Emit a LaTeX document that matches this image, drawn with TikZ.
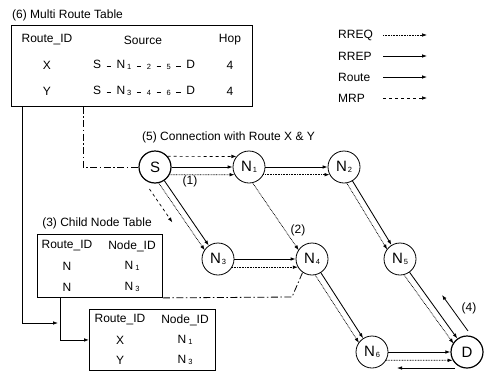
\documentclass[tikz,border=0pt]{standalone}
\usepackage{fontspec}
\setmainfont{Liberation Sans}
\usetikzlibrary{arrows.meta,calc}

% small lowered index, as in N_1
\newcommand\idx[1]{\raisebox{-1.5pt}{\fontsize{7.5}{7.5}\selectfont #1}}
% short bar between hops of a route
\newcommand\hopbar{\hspace{5.5pt}\rule[1pt]{4.5pt}{1.4pt}\hspace{5.5pt}}

\begin{document}
\begin{tikzpicture}[x=1pt,y=-1pt,
  nd/.style={circle,draw,line width=0.8pt,minimum size=32pt,inner sep=0pt,
             font=\fontsize{15}{15}\selectfont},
  endnd/.style={nd,line width=1.2pt},
  tbl/.style={draw,line width=0.9pt,anchor=north west,inner sep=0pt},
  txt/.style={font=\fontsize{12}{14}\selectfont,inner sep=0pt},
  tip/.style={-{Latex[length=5pt,width=3.6pt]}},
  route/.style={line width=0.85pt,tip},
  rreq/.style={line width=0.7pt,dash pattern=on 0.8pt off 0.8pt,tip},
  mrp/.style={line width=0.7pt,dash pattern=on 3pt off 3pt,tip},
  ddot/.style={line width=0.8pt,dash pattern=on 7pt off 2.5pt on 1.5pt off 2.5pt},
  conn/.style={line width=0.8pt,tip}]
\useasboundingbox (0,0) rectangle (489,380);

% ---------- (6) multi route table ----------
\node[txt,anchor=west] (t6) at (12,15) {(6) Multi Route Table};
\node[tbl,minimum width=241pt,minimum height=81pt] (mrt) at (11,25) {};
\node[txt] (mh1) at (47,40) {Route\_ID};
\node[txt] (mh2) at (143,40) {Source};
\node[txt] (mh3) at (230,40) {Hop};
\node[txt] (mx1) at (47,65) {X};
\node[txt] (mx2) at (144,65) {S\hopbar N\hspace{2pt}\idx{1}\hopbar\idx{2}\hopbar\idx{5}\hopbar D};
\node[txt] (mx3) at (230,65) {4};
\node[txt] (my1) at (47,91) {Y};
\node[txt] (my2) at (144,91) {S\hopbar N\hspace{2pt}\idx{3}\hopbar\idx{4}\hopbar\idx{6}\hopbar D};
\node[txt] (my3) at (230,91) {4};

% ---------- legend ----------
\foreach \lab/\yy/\sty [count=\i] in {RREQ/35/rreq,RREP/56/route,Route/77/route,MRP/98/mrp}{
  \node[txt,anchor=west] (lg\i) at (338,\yy) {\lab};
  \coordinate (la\i) at (383,\yy);
  \coordinate (lb\i) at (427,\yy);
  \draw[\sty] (la\i) -- (lb\i);
}

% ---------- network ----------
\node[txt,anchor=west] (t5) at (142,137) {(5) Connection with Route X \& Y};
\node[endnd] (S)  at (155,167) {S};
\node[nd]    (N1) at (249,167) {N\hspace{1pt}\idx{1}};
\node[nd]    (N2) at (344,167) {N\hspace{1pt}\idx{2}};
\node[nd]    (N3) at (218,259) {N\hspace{1pt}\idx{3}};
\node[nd]    (N4) at (312,259) {N\hspace{1pt}\idx{4}};
\node[nd]    (N5) at (400,259) {N\hspace{1pt}\idx{5}};
\node[nd]    (N6) at (372,352) {N\hspace{1pt}\idx{6}};
\node[endnd] (D)  at (467,352) {D};

\node[txt] (l1) at (190,181) {(1)};
\node[txt] (l2) at (298,230) {(2)};
\node[txt] (l4) at (469,308) {(4)};

% horizontal links: route on the centre line, RREQ just below
\draw[mrp] (S.40) -- (N1.140);
\draw[route] (S) -- (N1);
\draw[rreq] (S.-28) -- (N1.208);
\draw[route] (N1) -- (N2);
\draw[rreq] (N1.-28) -- (N2.208);
\draw[route] (N3) -- (N4);
\draw[rreq] (N3.-30) -- (N4.210);
\draw[route] (N6) -- (D);
\draw[rreq] (N6.-30) -- (D.210);
\draw[line width=0.8pt,tip] ($(D)+(-12,16)$) -- ($(N6)+(25,16)$);

% diagonal links: route on the centre line, RREQ offset to the lower left
\foreach \a/\b in {S/N3,N2/N5,N4/N6,N5/D}
  \draw[route] (\a) -- (\b);
\foreach \a/\b in {S/N3,N1/N4,N2/N5,N4/N6,N5/D}
  \draw[rreq,shorten <=14.8pt,shorten >=14.8pt]
    ($(\a)!6pt!-90:(\b)$) -- ($(\b)!6pt!90:(\a)$);
\draw[mrp,shorten <=15pt,shorten >=56pt]
  ($(S)!17pt!-90:(N3)$) -- ($(N3)!17pt!90:(S)$);

% route reply towards the source
\draw[line width=0.8pt,tip] ($(D)+(1,-21)$) -- ($(D)+(-25,-57)$);

% ---------- (3) child node table ----------
\node[txt] (t3) at (97,223) {(3) Child Node Table};
\node[tbl,minimum width=125pt,minimum height=63pt] (cnt) at (37,234) {};
\node[txt] (ch1) at (67,246) {Route\_ID};
\node[txt] (ch2) at (132,246) {Node\_ID};
\node[txt] (ca1) at (67,266) {N};
\node[txt] (ca2) at (132,266) {N\hspace{2pt}\idx{1}};
\node[txt] (cb1) at (67,287) {N};
\node[txt] (cb2) at (132,287) {N\hspace{2pt}\idx{3}};

% ---------- merged table ----------
\node[tbl,minimum width=126pt,minimum height=61pt] (mt) at (89,309) {};
\node[txt] (th1) at (120,320) {Route\_ID};
\node[txt] (th2) at (185,320) {Node\_ID};
\node[txt] (ta1) at (120,340) {X};
\node[txt] (ta2) at (185,340) {N\hspace{2pt}\idx{1}};
\node[txt] (tb1) at (120,360) {Y};
\node[txt] (tb2) at (185,360) {N\hspace{2pt}\idx{3}};

% ---------- table links ----------
\coordinate (mrtL) at ($(mrt.south west)+(11,0)$);
\coordinate (mrtD) at ($(mrt.south west)+(72,0)$);
\coordinate (cntD) at ($(cnt.south west)+(23,0)$);
\coordinate (join) at (58,323);
\draw[ddot] (mrtD) |- (S.west);
\draw[conn] (mrtL) |- (join);
\draw[conn] (cntD) |- (mt.west);
\coordinate (bend) at (292,297);
\draw[ddot] (cnt.south east) -- (bend) -- (N4.235);
\end{tikzpicture}
\end{document}
